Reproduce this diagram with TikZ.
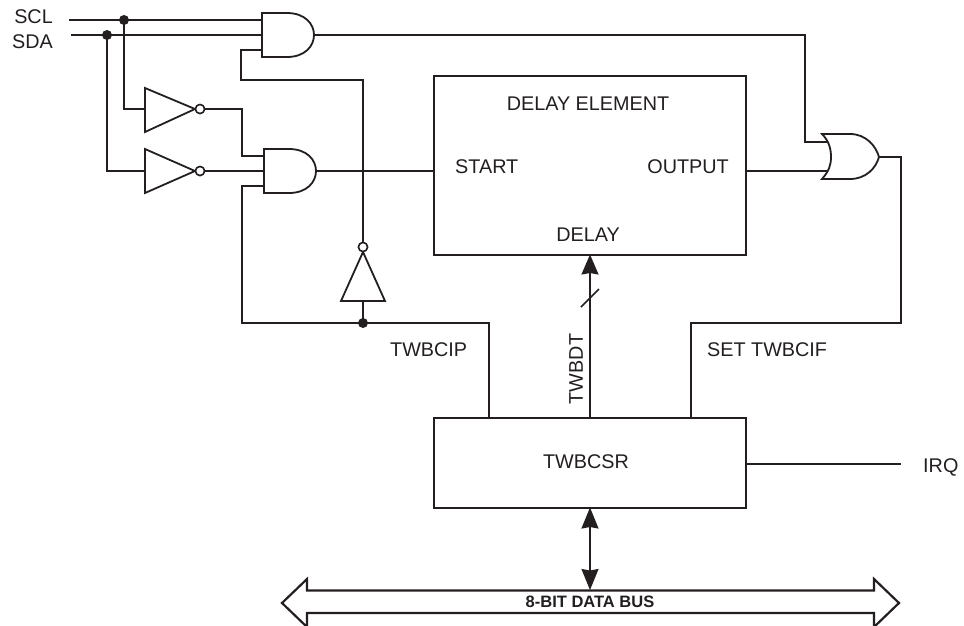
\documentclass[tikz,border=0pt]{standalone}
\usepackage{fontspec}
\setmainfont{Liberation Sans}
\usetikzlibrary{arrows.meta}
\definecolor{ink}{HTML}{231F20}
\tikzset{
  wire/.style={draw=ink,line width=1.6pt,line join=miter},
  gateline/.style={draw=ink,line width=1.8pt,fill=white,line join=miter},
  busline/.style={draw=ink,line width=2.2pt,fill=white,line join=miter},
  blockbox/.style={draw=ink,line width=2pt,fill=white,anchor=north west,inner sep=0pt},
  lbl/.style={text=ink,inner sep=0pt,font=\fontsize{19.8}{22}\selectfont},
  buslbl/.style={text=ink,inner sep=0pt,font=\fontsize{16.5}{18}\selectfont\bfseries},
  dotnode/.style={circle,fill=ink,draw=none,minimum size=10pt,inner sep=0pt},
  bubble/.style={circle,draw=ink,line width=1.5pt,fill=white,minimum size=9pt,inner sep=0pt},
  head/.style={-{Stealth[length=20pt,width=17pt,inset=1.5pt]}},
  twohead/.style={{Stealth[length=21pt,width=17pt,inset=1.5pt]}-{Stealth[length=21pt,width=17pt,inset=1.5pt]}},
}
% AND gate body: left x, top y, apex x, bottom y
\newcommand{\andbody}[4]{%
  \draw[gateline] (#1,#2) -- ({#1+25},#2) .. controls ({#3-9},#2) and (#3,{#2+11}) .. (#3,{(#2+#4)/2})
    .. controls (#3,{#4-11}) and ({#3-9},#4) .. ({#1+25},#4) -- (#1,#4) -- cycle;}
\begin{document}
\begin{tikzpicture}[x=1pt,y=-1pt]
\useasboundingbox (0,0) rectangle (964,625);
\clip (0,0) rectangle (964,625);

% terminals and pins
\coordinate (sclin) at (69,20);
\coordinate (sdain) at (71,35);
\coordinate (a1a) at (262,20);
\coordinate (a1b) at (262,35);
\coordinate (a1c) at (262,50);
\coordinate (a1o) at (314,35);
\coordinate (a2a) at (264,156);
\coordinate (a2b) at (264,171);
\coordinate (a2c) at (264,186);
\coordinate (a2o) at (316,171);
\coordinate (i1a) at (145,109);
\coordinate (i2a) at (145,171);
\coordinate (i3a) at (363,301);
\coordinate (oa) at (827,142);
\coordinate (ob) at (829,171);
\coordinate (oo) at (879,157);
\coordinate (irqend) at (901,464);

% blocks
\node[blockbox,minimum width=312pt,minimum height=179pt] (delaybox) at (433,75) {};
\node[blockbox,minimum width=312pt,minimum height=90pt] (csr) at (433,417) {};

% junctions and bubbles
\node[dotnode] (dscl) at (124,20) {};
\node[dotnode] (dsda) at (107,35) {};
\node[dotnode] (dcip) at (363,323) {};
\node[bubble] (b1) at (200,109) {};
\node[bubble] (b2) at (200,171) {};
\node[bubble] (b3) at (363,247) {};

% wires
\draw[wire] (sclin) -- (a1a);
\draw[wire] (sdain) -- (a1b);
\draw[wire] (dscl.center) |- (i1a);
\draw[wire] (dsda.center) |- (i2a);
\draw[wire] (b1.east) -- (242,109) |- (a2a);
\draw[wire] (b2.east) -- (a2b);
\draw[wire] (a2o) -- (433,171);
\draw[wire] (a1c) -- (241,50) -- (241,80) -| (b3.north);
\draw[wire] (a1o) -- (805,35) |- (oa);
\draw[wire] (745,171) -- (ob);
\draw[wire] (oo) -- (901,157) |- (691,323) -- (691,417);
\draw[wire] (a2c) -- (242,186) |- (dcip.center);
\draw[wire] (dcip.center) -- (489,323) -- (489,417);
\draw[wire] (dcip.center) -- (i3a);
\draw[wire] (745,464) -- (irqend);

% gates
\andbody{262}{13}{314}{57}
\andbody{264}{149}{316}{193}
\draw[gateline] (145,88) -- (195,109) -- (145,132) -- cycle;
\draw[gateline] (145,149) -- (195,171) -- (145,193) -- cycle;
\draw[gateline] (363,252) -- (385,301) -- (341,301) -- cycle;
\node[bubble] at (b1) {};
\node[bubble] at (b2) {};
\node[bubble] at (b3) {};
\draw[gateline] (822,134) -- (850,134) .. controls (866,134) and (876,146) .. (879,157)
  .. controls (876,168) and (866,179) .. (850,179) -- (822,179)
  .. controls (829,171) and (831,165) .. (831,157)
  .. controls (831,149) and (829,141) .. (822,134) -- cycle;

% data connections
\draw[wire,head] (590,417) -- (590,254.5);
\draw[wire] (581,307) -- (599,289);

% bus
\draw[busline] (282,603) -- (307,579) -- (307,590.5) -- (874,590.5) -- (874,579) -- (899,603)
  -- (874,627) -- (874,613) -- (307,613) -- (307,627) -- cycle;
\draw[wire,twohead] (590,507.5) -- (590,590);

% labels
\node[lbl,anchor=east] (tscl) at (53,17) {SCL};
\node[lbl,anchor=east] (tsda) at (53,41.5) {SDA};
\node[lbl] (tde) at (588,104) {DELAY ELEMENT};
\node[lbl,anchor=west] (tstart) at (455,167) {START};
\node[lbl,anchor=east] (toutput) at (729,167) {OUTPUT};
\node[lbl] (tdelay) at (588,235) {DELAY};
\node[lbl,anchor=west] (tcip) at (390,350) {TWBCIP};
\node[lbl,anchor=west] (tcif) at (707,350) {SET TWBCIF};
\node[lbl,rotate=90] (tdt) at (576,369) {TWBDT};
\node[lbl] (tcsr) at (586,462) {TWBCSR};
\node[lbl,anchor=west] (tirq) at (923,467) {IRQ};
\node[buslbl] (tbus) at (590,602) {8-BIT DATA BUS};
\end{tikzpicture}
\end{document}
